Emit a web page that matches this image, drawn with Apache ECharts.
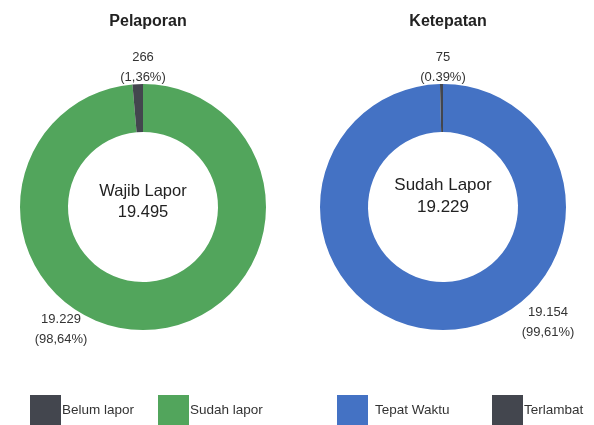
<!DOCTYPE html>
<html>
<head>
<meta charset="utf-8">
<script src="https://cdn.jsdelivr.net/npm/echarts@6/dist/echarts.min.js"></script>
<style>html,body{margin:0;padding:0;background:#fff}#c{width:594px;height:425px}</style>
</head>
<body>
<div id="c"></div>
<script>
// Data
var titles = ['Pelaporan', 'Ketepatan'];
var leftCats = ['Sudah lapor', 'Belum lapor'];
var leftVals = [19229, 266];
var leftLabels = ['19.229\n(98,64%)', '266\n(1,36%)'];
var leftCenter = ['Wajib Lapor', '19.495'];
var rightCats = ['Tepat Waktu', 'Terlambat'];
var rightVals = [19154, 75];
var rightLabels = ['19.154\n(99,61%)', '75\n(0.39%)'];
var rightCenter = ['Sudah Lapor', '19.229'];
var legendOrder = ['Belum lapor', 'Sudah lapor', 'Tepat Waktu', 'Terlambat'];

// Layout / style (not data)
var colors = {'Sudah lapor':'#52a55c','Belum lapor':'#43464e','Tepat Waktu':'#4472c4','Terlambat':'#43464e'};
var leftLabelPos = [[61, 329], [143, 67]];
var rightLabelPos = [[548, 322], [443, 67]];
var FONT = 'Liberation Sans, Arial, sans-serif';

function mkData(cats, vals) {
  return cats.map(function (c, i) { return {name: c, value: vals[i], itemStyle: {color: colors[c]}}; });
}
function mkSeries(cx, cats, vals, labels, pos) {
  return {
    type: 'pie', center: [cx, 207], radius: [75, 123], startAngle: 90, clockwise: true,
    avoidLabelOverlap: false, silent: true,
    label: {show: true, position: 'outside', fontFamily: FONT, fontSize: 13, color: '#333', lineHeight: 20,
      formatter: function (p) { return labels[p.dataIndex]; }},
    labelLine: {show: false},
    labelLayout: function (p) { var q = pos[p.dataIndex]; return {x: q[0], y: q[1], align: 'center', verticalAlign: 'middle'}; },
    data: mkData(cats, vals)
  };
}
var legendLeft = [30, 158, 337, 492];
var legendTextPad = [-4, -4, 2, -4];
var legends = legendOrder.map(function (n, i) {
  return {data: [n], left: legendLeft[i], top: 395, padding: 0, itemWidth: 31, itemHeight: 30, icon: 'rect',
    selectedMode: false, textStyle: {fontFamily: FONT, fontSize: 13.5, color: '#333', padding: [0, 0, 0, legendTextPad[i]]}};
});
var chart = echarts.init(document.getElementById('c'));
chart.setOption({
  animation: false,
  title: [
    {text: titles[0], left: 143, top: 9, textAlign: 'center', textStyle: {fontFamily: FONT, fontSize: 16, fontWeight: 'bold', color: '#222'}},
    {text: titles[1], left: 443, top: 9, textAlign: 'center', textStyle: {fontFamily: FONT, fontSize: 16, fontWeight: 'bold', color: '#222'}}
  ],
  legend: legends,
  graphic: [
    {type: 'text', x: 143, y: 202, style: {text: leftCenter.join('\n'), fontFamily: FONT, fontSize: 16.5, lineHeight: 21, fill: '#222', align: 'center', verticalAlign: 'middle'}},
    {type: 'text', x: 443, y: 196, style: {text: rightCenter.join('\n'), fontFamily: FONT, fontSize: 17, lineHeight: 22, fill: '#222', align: 'center', verticalAlign: 'middle'}}
  ],
  series: [
    mkSeries(143, leftCats, leftVals, leftLabels, leftLabelPos),
    mkSeries(443, rightCats, rightVals, rightLabels, rightLabelPos)
  ]
});
</script>
</body>
</html>
